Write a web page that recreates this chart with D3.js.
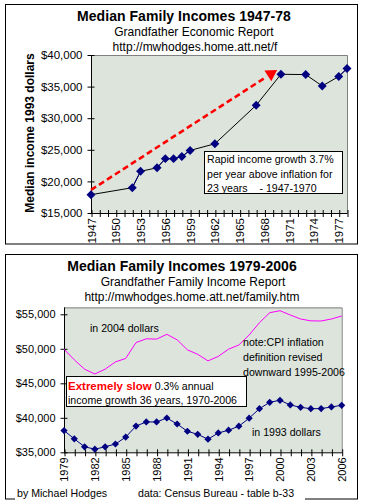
<!DOCTYPE html>
<html>
<head>
<meta charset="utf-8">
<script src="https://cdn.jsdelivr.net/npm/d3@7"></script>
<style>
  body { margin: 0; background: #fff; }
  text { font-family: "Liberation Sans", Arial, sans-serif; fill: #000; }
</style>
</head>
<body>
<div id="chart"></div>
<script>
// ---- top chart data (1993 dollars) ----
var topYears  = [1947, 1952, 1953, 1955, 1956, 1957, 1958, 1959, 1962, 1967, 1970, 1973, 1975, 1977, 1978];
var topIncome = [17900, 19000, 21600, 22150, 23600, 23600, 23950, 24900, 25950, 32050, 36950, 36900, 35100, 36600, 37850];
var topYTicks = [15000, 20000, 25000, 30000, 35000, 40000];
var topXLabels = [1947, 1950, 1953, 1956, 1959, 1962, 1965, 1968, 1971, 1974, 1977];
// red trend arrow, start and end
var arrowYears  = [1947, 1969.3];
var arrowIncome = [18650, 37430];

// ---- bottom chart data ----
var botYears = [1979, 1980, 1981, 1982, 1983, 1984, 1985, 1986, 1987, 1988, 1989, 1990, 1991, 1992,
                1993, 1994, 1995, 1996, 1997, 1998, 1999, 2000, 2001, 2002, 2003, 2004, 2005, 2006];
var income1993 = [38150, 36950, 35800, 35450, 35800, 36200, 37200, 38800, 39400, 39400, 39970, 39100, 38050, 37600,
                  36900, 37800, 38200, 38780, 39950, 41320, 42250, 42540, 41860, 41520, 41320, 41330, 41570, 41810];
var income2004 = [49950, 48400, 47050, 46350, 47050, 48100, 48600, 50900, 51450, 51400, 52100, 51300, 49850, 49200,
                  48250, 48900, 49950, 50550, 52000, 53780, 55230, 55520, 54900, 54320, 54050, 54030, 54320, 54750];
var botYTicks = [35000, 40000, 45000, 50000, 55000];
var botXLabels = [1979, 1982, 1985, 1988, 1991, 1994, 1997, 2000, 2003, 2006];

var W = 365, H = 500;
var plotFill = "#dce4dc", navy = "#000080";
var fmt = d3.format("$,");
var noteFont = "10.6px";

var svg = d3.select("#chart").append("svg")
    .attr("width", W)
    .attr("height", H);

// outer frames
svg.append("rect").attr("x", 5.5).attr("y", 4.5).attr("width", 352).attr("height", 239.5)
    .attr("fill", "#fff").attr("stroke", "#000");
svg.append("rect").attr("x", 5.5).attr("y", 254.5).attr("width", 352).attr("height", 244.5)
    .attr("fill", "#fff").attr("stroke", "#000");

function titles(lines) {
    lines.forEach(function(l) {
        svg.append("text")
            .attr("x", l.x).attr("y", l.y)
            .attr("text-anchor", "middle")
            .style("font-size", l.size + "px")
            .style("font-weight", l.bold ? "bold" : "normal")
            .style("letter-spacing", l.ls || "0px")
            .text(l.t);
    });
}

// draws plot background, axes and ticks for one panel
function panel(x, y, yTicks, xLabels, years, tickFont) {
    var x0 = x.range()[0], x1 = x.range()[1];
    var y0 = y.range()[0], y1 = y.range()[1];
    var g = svg.append("g");

    g.append("rect")
        .attr("x", x0).attr("y", y1)
        .attr("width", x1 - x0).attr("height", y0 - y1)
        .attr("fill", plotFill);
    // grey border top and right
    g.append("path")
        .attr("d", "M" + x0 + "," + (y1 + 0.5) + "H" + (x1 + 0.5) + "V" + y0)
        .attr("fill", "none").attr("stroke", "#808080");

    // y axis
    var ya = g.append("g").attr("transform", "translate(" + (x0 + 3.5) + ",0)")
        .call(d3.axisLeft(y).tickValues(yTicks).tickSize(7).tickPadding(2).tickFormat(fmt));
    ya.select(".domain").remove();
    ya.selectAll("line").attr("stroke", "#000");
    ya.selectAll("text").style("font-size", tickFont + "px")
        .attr("font-family", null).attr("dx", "-3");
    g.append("line").attr("x1", x0 + 0.5).attr("x2", x0 + 0.5).attr("y1", y1).attr("y2", y0 + 0.5)
        .attr("stroke", "#000");

    // x axis, ticks every year crossing the line
    var xa = g.append("g").attr("transform", "translate(0," + (y0 - 3) + ")")
        .call(d3.axisBottom(x).tickValues(years).tickSize(7).tickPadding(2)
            .tickFormat(function(d) { return xLabels.indexOf(d) >= 0 ? d : ""; }));
    xa.select(".domain").remove();
    xa.selectAll("line").attr("stroke", "#000").attr("transform", "translate(0.5,0)");
    xa.selectAll("text")
        .attr("font-family", null)
        .style("font-size", tickFont + "px")
        .attr("text-anchor", "end")
        .attr("transform", "translate(0,8) rotate(-90)")
        .attr("x", 0).attr("y", 0).attr("dy", "0.35em").attr("dx", "0");
    g.append("line").attr("x1", x0).attr("x2", x1 + 0.5).attr("y1", y0 + 0.5).attr("y2", y0 + 0.5)
        .attr("stroke", "#000");
    return g;
}

function diamonds(g, xs, ys, x, y, size) {
    g.selectAll(null)
        .data(xs.map(function(d, i) { return [d, ys[i]]; }))
        .enter().append("path")
        .attr("d", d3.symbol(d3.symbolSquare, size))
        .attr("transform", function(d) { return "translate(" + x(d[0]) + "," + y(d[1]) + ") rotate(45)"; })
        .attr("fill", navy);
}

// ================= TOP CHART =================
titles([
    { t: "Median Family Incomes 1947-78", x: 184, y: 21, size: 14, bold: true, ls: "0.05px" },
    { t: "Grandfather Economic Report", x: 194, y: 36, size: 12 },
    { t: "http://mwhodges.home.att.net/f", x: 195, y: 51, size: 12 }
]);

var xTop = d3.scaleLinear().domain([1947, 1978]).range([91, 347]);
var yTop = d3.scaleLinear().domain([15000, 40000]).range([213, 55]);
var allTopYears = d3.range(1947, 1979);
var gTop = panel(xTop, yTop, topYTicks, topXLabels, allTopYears, 11.5);

svg.append("text")
    .attr("transform", "translate(34,133) rotate(-90)")
    .attr("text-anchor", "middle")
    .style("font-size", "12px").style("font-weight", "bold")
    .text("Median income 1993 dollars");

// red dashed arrow
var arrowPts = arrowYears.map(function(d, i) { return [xTop(d), yTop(arrowIncome[i])]; });
var ang = Math.atan2(arrowPts[1][1] - arrowPts[0][1], arrowPts[1][0] - arrowPts[0][0]);
var headLen = 10;
var shaftEnd = [arrowPts[1][0] - headLen * Math.cos(ang), arrowPts[1][1] - headLen * Math.sin(ang)];
gTop.append("line")
    .attr("x1", arrowPts[0][0]).attr("y1", arrowPts[0][1])
    .attr("x2", shaftEnd[0]).attr("y2", shaftEnd[1])
    .attr("stroke", "#ff0000").attr("stroke-width", 2.6)
    .attr("stroke-dasharray", "6,3.5");
gTop.append("path")
    .attr("d", d3.symbol(d3.symbolTriangle, 70))
    .attr("transform", "translate(" + (arrowPts[1][0] - 5 * Math.cos(ang)) + "," + (arrowPts[1][1] - 5 * Math.sin(ang)) +
        ") rotate(" + (ang * 180 / Math.PI + 90) + ")")
    .attr("fill", "#ff0000");

// income line: black across gaps, navy between consecutive years
var lineTop = d3.line().x(function(d) { return xTop(d[0]); }).y(function(d) { return yTop(d[1]); });
var topPts = topYears.map(function(d, i) { return [d, topIncome[i]]; });
gTop.append("path").attr("d", lineTop(topPts)).attr("fill", "none").attr("stroke", "#000").attr("stroke-width", 1);
for (var i = 1; i < topPts.length; i++) {
    if (topPts[i][0] - topPts[i - 1][0] === 1) {
        gTop.append("path").attr("d", lineTop([topPts[i - 1], topPts[i]]))
            .attr("fill", "none").attr("stroke", navy).attr("stroke-width", 1);
    }
}
diamonds(gTop, topYears, topIncome, xTop, yTop, 40);

// annotation box
svg.append("rect").attr("x", 204.5).attr("y", 151.5).attr("width", 138).attr("height", 42)
    .attr("fill", "#fff").attr("stroke", "#000");
["Rapid income growth 3.7%", "per year above inflation for", "23 years    - 1947-1970"].forEach(function(t, i) {
    svg.append("text").attr("x", 207).attr("y", 163 + i * 14.5)
        .style("font-size", noteFont).style("white-space", "pre").text(t);
});

// ================= BOTTOM CHART =================
titles([
    { t: "Median Family Incomes 1979-2006", x: 182, y: 271, size: 14, bold: true, ls: "0.05px" },
    { t: "Grandfather Family Income Report", x: 193, y: 286, size: 12 },
    { t: "http://mwhodges.home.att.net/family.htm", x: 192, y: 301, size: 12 }
]);

var xBot = d3.scaleLinear().domain([1979, 2006]).range([64, 341.7]);
var yBot = d3.scaleLinear().domain([35000, 56000]).range([452.3, 307.4]);
var gBot = panel(xBot, yBot, botYTicks, botXLabels, botYears, 11);

var lineBot = d3.line().x(function(d) { return xBot(d[0]); }).y(function(d) { return yBot(d[1]); });
gBot.append("path")
    .attr("d", lineBot(botYears.map(function(d, i) { return [d, income2004[i]]; })))
    .attr("fill", "none").attr("stroke", "#ff00ff").attr("stroke-width", 1);
gBot.append("path")
    .attr("d", lineBot(botYears.map(function(d, i) { return [d, income1993[i]]; })))
    .attr("fill", "none").attr("stroke", navy).attr("stroke-width", 1);
diamonds(gBot, botYears, income1993, xBot, yBot, 26);

svg.append("text").attr("x", 90).attr("y", 332).style("font-size", noteFont).text("in 2004 dollars");
["note:CPI inflation", "definition revised", "downward 1995-2006"].forEach(function(t, i) {
    svg.append("text").attr("x", 243).attr("y", 346 + i * 14.8).style("font-size", noteFont).text(t);
});
svg.append("text").attr("x", 252).attr("y", 436).style("font-size", noteFont).text("in 1993 dollars");

svg.append("rect").attr("x", 66.5).attr("y", 376.5).attr("width", 180).attr("height", 30)
    .attr("fill", "#fff").attr("stroke", "#000");
var slow = svg.append("text").attr("x", 68).attr("y", 389.5).style("font-size", noteFont);
slow.append("tspan").style("font-weight", "bold").style("fill", "#ff0000").style("font-size", "11.5px")
    .text("Extremely slow");
slow.append("tspan").text(" 0.3% annual");
svg.append("text").attr("x", 68).attr("y", 404).style("font-size", noteFont)
    .text("income growth 36 years, 1970-2006");

// footer sits on the frame line, one white patch behind both texts
svg.append("rect").attr("x", 15).attr("y", 488).attr("width", 290).attr("height", 12).attr("fill", "#fff");
svg.append("text").attr("x", 17).attr("y", 497).style("font-size", noteFont).text("by Michael Hodges");
svg.append("text").attr("x", 138).attr("y", 497).style("font-size", noteFont).text("data: Census Bureau - table b-33");
</script>
</body>
</html>
